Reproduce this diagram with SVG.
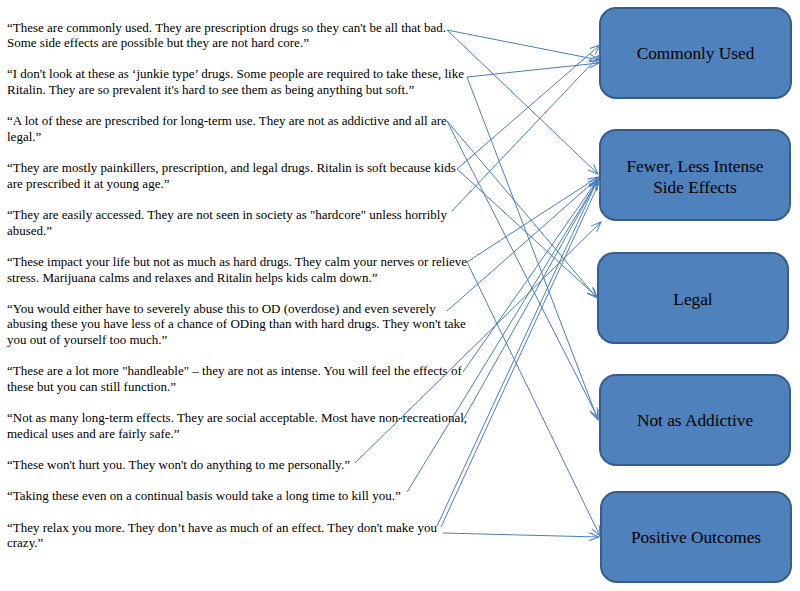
<svg xmlns="http://www.w3.org/2000/svg" width="800" height="591" viewBox="0 0 800 591">
<defs>
<marker id="arr" markerUnits="userSpaceOnUse" markerWidth="12" markerHeight="10" refX="10" refY="4" orient="auto" overflow="visible">
<path d="M0,0 L10,4 L0,8" fill="none" stroke="#4a7ebb" stroke-width="1"/>
</marker>
<style>
.q{font-family:"Liberation Serif","Times New Roman",serif;font-size:13px;fill:#000}
.box{fill:#4f81bd;stroke:#385d8a;stroke-width:2}
.lbl{font-family:"Liberation Serif","Times New Roman",serif;font-size:17.3px;fill:#000;text-anchor:middle}
.c{stroke:#4a7ebb;stroke-width:1;fill:none;marker-end:url(#arr)}
</style>
</defs>
<rect width="800" height="591" fill="#fff"/>
<g id="quotes">
<g id="q1"><text class="q" x="7" y="31.5">“These are commonly used. They are prescription drugs so they can't be all that bad.</text><text class="q" x="7" y="47.1">Some side effects are possible but they are not hard core.”</text></g>
<g id="q2"><text class="q" x="7" y="78.4">“I don't look at these as ‘junkie type’ drugs. Some people are required to take these, like</text><text class="q" x="7" y="94">Ritalin. They are so prevalent it's hard to see them as being anything but soft.”</text></g>
<g id="q3"><text class="q" x="7" y="125.3">“A lot of these are prescribed for long-term use. They are not as addictive and all are</text><text class="q" x="7" y="140.9">legal.”</text></g>
<g id="q4"><text class="q" x="7" y="172.1">“They are mostly painkillers, prescription, and legal drugs. Ritalin is soft because kids</text><text class="q" x="7" y="187.8">are prescribed it at young age.”</text></g>
<g id="q5"><text class="q" x="7" y="219">“They are easily accessed. They are not seen in society as "hardcore" unless horribly</text><text class="q" x="7" y="234.6">abused.”</text></g>
<g id="q6"><text class="q" x="7" y="265.9">“These impact your life but not as much as hard drugs. They calm your nerves or relieve</text><text class="q" x="7" y="281.5">stress. Marijuana calms and relaxes and Ritalin helps kids calm down.”</text></g>
<g id="q7"><text class="q" x="7" y="312.8">“You would either have to severely abuse this to OD (overdose) and even severely</text><text class="q" x="7" y="328.4">abusing these you have less of a chance of ODing than with hard drugs. They won't take</text><text class="q" x="7" y="344">you out of yourself too much.”</text></g>
<g id="q8"><text class="q" x="7" y="375.3">“These are a lot more "handleable" – they are not as intense. You will feel the effects of</text><text class="q" x="7" y="390.9">these but you can still function.”</text></g>
<g id="q9"><text class="q" x="7" y="422.1">“Not as many long-term effects. They are social acceptable. Most have non-recreational,</text><text class="q" x="7" y="437.8">medical uses and are fairly safe.”</text></g>
<g id="q10"><text class="q" x="7" y="469">“These won't hurt you. They won't do anything to me personally.”</text></g>
<g id="q11"><text class="q" x="7" y="500.3">“Taking these even on a continual basis would take a long time to kill you.”</text></g>
<g id="q12"><text class="q" x="7" y="531.5">“They relax you more. They don’t have as much of an effect. They don't make you</text><text class="q" x="7" y="547.1">crazy.”</text></g>
</g>
<g id="commonly-used"><rect class="box" x="600" y="8" width="191" height="90" rx="16"/><text class="lbl" x="695.5" y="59">Commonly Used</text></g>
<g id="fewer-side-effects"><rect class="box" x="600" y="130" width="190" height="90" rx="16"/><text class="lbl" x="695" y="172">Fewer, Less Intense</text><text class="lbl" x="695" y="193">Side Effects</text></g>
<g id="legal"><rect class="box" x="598" y="253" width="190" height="90" rx="16"/><text class="lbl" x="693" y="305">Legal</text></g>
<g id="not-as-addictive"><rect class="box" x="600" y="375" width="190" height="90" rx="16"/><text class="lbl" x="695" y="426">Not as Addictive</text></g>
<g id="positive-outcomes"><rect class="box" x="601" y="492" width="190" height="90" rx="16"/><text class="lbl" x="696" y="543">Positive Outcomes</text></g>
<g id="connectors">
<line class="c" x1="447" y1="30" x2="599" y2="60"/>
<line class="c" x1="447" y1="30" x2="598" y2="174"/>
<line class="c" x1="467" y1="77" x2="599" y2="63"/>
<line class="c" x1="467" y1="77" x2="598" y2="420"/>
<line class="c" x1="447" y1="121" x2="597" y2="298"/>
<line class="c" x1="447" y1="121" x2="598" y2="418"/>
<line class="c" x1="457" y1="169" x2="600" y2="45"/>
<line class="c" x1="457" y1="169" x2="597" y2="297"/>
<line class="c" x1="452" y1="211" x2="600" y2="55"/>
<line class="c" x1="467" y1="262" x2="598" y2="177"/>
<line class="c" x1="467" y1="262" x2="600" y2="536"/>
<line class="c" x1="447" y1="311" x2="598" y2="178"/>
<line class="c" x1="463" y1="372" x2="598" y2="179"/>
<line class="c" x1="463" y1="420" x2="598" y2="180"/>
<line class="c" x1="355" y1="463" x2="601" y2="222"/>
<line class="c" x1="407" y1="492" x2="598" y2="180"/>
<line class="c" x1="437" y1="526" x2="598" y2="179"/>
<line class="c" x1="441" y1="527" x2="600" y2="181"/>
<line class="c" x1="443" y1="533" x2="599" y2="537"/>
</g>
</svg>
